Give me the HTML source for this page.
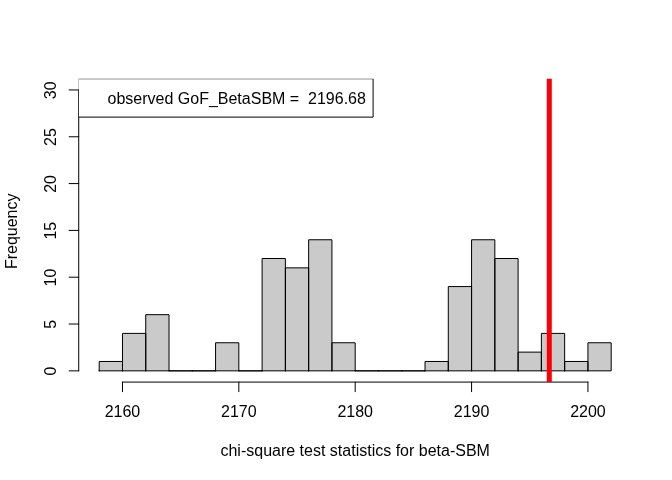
<!DOCTYPE html>
<html><head><meta charset="utf-8"><title>Histogram</title>
<style>html,body{margin:0;padding:0;background:#fff;width:672px;height:480px;overflow:hidden}svg{display:block;will-change:transform}text{white-space:pre}</style>
</head><body>
<svg width="672" height="480" viewBox="0 0 672 480" font-family="'Liberation Sans', Arial, sans-serif" font-size="16" fill="#000" stroke-linecap="round" stroke-linejoin="round">
<defs><clipPath id="pr"><rect x="78.72" y="78.72" width="552.9599999999999" height="303.36"/></clipPath></defs>
<rect x="99.200" y="361.481" width="23.273" height="9.363" fill="#CACACA"/>
<rect x="122.473" y="333.393" width="23.273" height="37.452" fill="#CACACA"/>
<rect x="145.745" y="314.667" width="23.273" height="56.178" fill="#CACACA"/>
<rect x="169.018" y="370.844" width="23.273" height="0.000" fill="#CACACA"/>
<rect x="192.291" y="370.844" width="23.273" height="0.000" fill="#CACACA"/>
<rect x="215.564" y="342.756" width="23.273" height="28.089" fill="#CACACA"/>
<rect x="238.836" y="370.844" width="23.273" height="0.000" fill="#CACACA"/>
<rect x="262.109" y="258.489" width="23.273" height="112.356" fill="#CACACA"/>
<rect x="285.382" y="267.852" width="23.273" height="102.993" fill="#CACACA"/>
<rect x="308.655" y="239.763" width="23.273" height="131.081" fill="#CACACA"/>
<rect x="331.927" y="342.756" width="23.273" height="28.089" fill="#CACACA"/>
<rect x="355.200" y="370.844" width="23.273" height="0.000" fill="#CACACA"/>
<rect x="378.473" y="370.844" width="23.273" height="0.000" fill="#CACACA"/>
<rect x="401.745" y="370.844" width="23.273" height="0.000" fill="#CACACA"/>
<rect x="425.018" y="361.481" width="23.273" height="9.363" fill="#CACACA"/>
<rect x="448.291" y="286.578" width="23.273" height="84.267" fill="#CACACA"/>
<rect x="471.564" y="239.763" width="23.273" height="131.081" fill="#CACACA"/>
<rect x="494.836" y="258.489" width="23.273" height="112.356" fill="#CACACA"/>
<rect x="518.109" y="352.119" width="23.273" height="18.726" fill="#CACACA"/>
<rect x="541.382" y="333.393" width="23.273" height="37.452" fill="#CACACA"/>
<rect x="564.655" y="361.481" width="23.273" height="9.363" fill="#CACACA"/>
<rect x="587.927" y="342.756" width="23.273" height="28.089" fill="#CACACA"/>
<path d="M99.200 370.844H122.473V361.481H99.200Z" fill="none" stroke="#000" stroke-width="1" stroke-linejoin="miter" stroke-linecap="butt"/>
<path d="M122.473 370.844H145.745V333.393H122.473Z" fill="none" stroke="#000" stroke-width="1" stroke-linejoin="miter" stroke-linecap="butt"/>
<path d="M145.745 370.844H169.018V314.667H145.745Z" fill="none" stroke="#000" stroke-width="1" stroke-linejoin="miter" stroke-linecap="butt"/>
<path d="M169.018 370.844H192.291V370.844H169.018Z" fill="none" stroke="#000" stroke-width="1" stroke-linejoin="miter" stroke-linecap="butt"/>
<path d="M192.291 370.844H215.564V370.844H192.291Z" fill="none" stroke="#000" stroke-width="1" stroke-linejoin="miter" stroke-linecap="butt"/>
<path d="M215.564 370.844H238.836V342.756H215.564Z" fill="none" stroke="#000" stroke-width="1" stroke-linejoin="miter" stroke-linecap="butt"/>
<path d="M238.836 370.844H262.109V370.844H238.836Z" fill="none" stroke="#000" stroke-width="1" stroke-linejoin="miter" stroke-linecap="butt"/>
<path d="M262.109 370.844H285.382V258.489H262.109Z" fill="none" stroke="#000" stroke-width="1" stroke-linejoin="miter" stroke-linecap="butt"/>
<path d="M285.382 370.844H308.655V267.852H285.382Z" fill="none" stroke="#000" stroke-width="1" stroke-linejoin="miter" stroke-linecap="butt"/>
<path d="M308.655 370.844H331.927V239.763H308.655Z" fill="none" stroke="#000" stroke-width="1" stroke-linejoin="miter" stroke-linecap="butt"/>
<path d="M331.927 370.844H355.200V342.756H331.927Z" fill="none" stroke="#000" stroke-width="1" stroke-linejoin="miter" stroke-linecap="butt"/>
<path d="M355.200 370.844H378.473V370.844H355.200Z" fill="none" stroke="#000" stroke-width="1" stroke-linejoin="miter" stroke-linecap="butt"/>
<path d="M378.473 370.844H401.745V370.844H378.473Z" fill="none" stroke="#000" stroke-width="1" stroke-linejoin="miter" stroke-linecap="butt"/>
<path d="M401.745 370.844H425.018V370.844H401.745Z" fill="none" stroke="#000" stroke-width="1" stroke-linejoin="miter" stroke-linecap="butt"/>
<path d="M425.018 370.844H448.291V361.481H425.018Z" fill="none" stroke="#000" stroke-width="1" stroke-linejoin="miter" stroke-linecap="butt"/>
<path d="M448.291 370.844H471.564V286.578H448.291Z" fill="none" stroke="#000" stroke-width="1" stroke-linejoin="miter" stroke-linecap="butt"/>
<path d="M471.564 370.844H494.836V239.763H471.564Z" fill="none" stroke="#000" stroke-width="1" stroke-linejoin="miter" stroke-linecap="butt"/>
<path d="M494.836 370.844H518.109V258.489H494.836Z" fill="none" stroke="#000" stroke-width="1" stroke-linejoin="miter" stroke-linecap="butt"/>
<path d="M518.109 370.844H541.382V352.119H518.109Z" fill="none" stroke="#000" stroke-width="1" stroke-linejoin="miter" stroke-linecap="butt"/>
<path d="M541.382 370.844H564.655V333.393H541.382Z" fill="none" stroke="#000" stroke-width="1" stroke-linejoin="miter" stroke-linecap="butt"/>
<path d="M564.655 370.844H587.927V361.481H564.655Z" fill="none" stroke="#000" stroke-width="1" stroke-linejoin="miter" stroke-linecap="butt"/>
<path d="M587.927 370.844H611.200V342.756H587.927Z" fill="none" stroke="#000" stroke-width="1" stroke-linejoin="miter" stroke-linecap="butt"/>
<circle cx="99.200" cy="370.844" r="0.75"/>
<circle cx="122.473" cy="370.844" r="0.75"/>
<circle cx="145.745" cy="370.844" r="0.75"/>
<circle cx="169.018" cy="370.844" r="0.75"/>
<circle cx="192.291" cy="370.844" r="0.75"/>
<circle cx="215.564" cy="370.844" r="0.75"/>
<circle cx="238.836" cy="370.844" r="0.75"/>
<circle cx="262.109" cy="370.844" r="0.75"/>
<circle cx="285.382" cy="370.844" r="0.75"/>
<circle cx="308.655" cy="370.844" r="0.75"/>
<circle cx="331.927" cy="370.844" r="0.75"/>
<circle cx="355.200" cy="370.844" r="0.75"/>
<circle cx="378.473" cy="370.844" r="0.75"/>
<circle cx="401.745" cy="370.844" r="0.75"/>
<circle cx="425.018" cy="370.844" r="0.75"/>
<circle cx="448.291" cy="370.844" r="0.75"/>
<circle cx="471.564" cy="370.844" r="0.75"/>
<circle cx="494.836" cy="370.844" r="0.75"/>
<circle cx="518.109" cy="370.844" r="0.75"/>
<circle cx="541.382" cy="370.844" r="0.75"/>
<circle cx="564.655" cy="370.844" r="0.75"/>
<circle cx="587.927" cy="370.844" r="0.75"/>
<line x1="122.473" y1="382.080" x2="587.927" y2="382.080" stroke="#000" stroke-width="1"/>
<line x1="122.473" y1="382.080" x2="122.473" y2="391.680" stroke="#000" stroke-width="1"/>
<text x="122.473" y="416.640" text-anchor="middle">2160</text>
<line x1="238.836" y1="382.080" x2="238.836" y2="391.680" stroke="#000" stroke-width="1"/>
<text x="238.836" y="416.640" text-anchor="middle">2170</text>
<line x1="355.200" y1="382.080" x2="355.200" y2="391.680" stroke="#000" stroke-width="1"/>
<text x="355.200" y="416.640" text-anchor="middle">2180</text>
<line x1="471.564" y1="382.080" x2="471.564" y2="391.680" stroke="#000" stroke-width="1"/>
<text x="471.564" y="416.640" text-anchor="middle">2190</text>
<line x1="587.927" y1="382.080" x2="587.927" y2="391.680" stroke="#000" stroke-width="1"/>
<text x="587.927" y="416.640" text-anchor="middle">2200</text>
<line x1="78.720" y1="370.844" x2="78.720" y2="89.956" stroke="#000" stroke-width="1"/>
<line x1="69.120" y1="370.844" x2="78.720" y2="370.844" stroke="#000" stroke-width="1"/>
<text transform="translate(55.680,371.144) rotate(-90)" text-anchor="middle">0</text>
<line x1="69.120" y1="324.030" x2="78.720" y2="324.030" stroke="#000" stroke-width="1"/>
<text transform="translate(55.680,324.330) rotate(-90)" text-anchor="middle">5</text>
<line x1="69.120" y1="277.215" x2="78.720" y2="277.215" stroke="#000" stroke-width="1"/>
<text transform="translate(55.680,277.515) rotate(-90)" text-anchor="middle">10</text>
<line x1="69.120" y1="230.400" x2="78.720" y2="230.400" stroke="#000" stroke-width="1"/>
<text transform="translate(55.680,230.700) rotate(-90)" text-anchor="middle">15</text>
<line x1="69.120" y1="183.585" x2="78.720" y2="183.585" stroke="#000" stroke-width="1"/>
<text transform="translate(55.680,183.885) rotate(-90)" text-anchor="middle">20</text>
<line x1="69.120" y1="136.770" x2="78.720" y2="136.770" stroke="#000" stroke-width="1"/>
<text transform="translate(55.680,137.070) rotate(-90)" text-anchor="middle">25</text>
<line x1="69.120" y1="89.956" x2="78.720" y2="89.956" stroke="#000" stroke-width="1"/>
<text transform="translate(55.680,90.256) rotate(-90)" text-anchor="middle">30</text>
<text x="355.200" y="456.140" text-anchor="middle">chi-square test statistics for beta-SBM</text>
<text transform="translate(17.280,231.300) rotate(-90)" text-anchor="middle">Frequency</text>
<line x1="549.295" y1="78.720" x2="549.295" y2="382.080" stroke="#FB0006" stroke-width="5" stroke-linecap="butt"/>
<rect x="78.720" y="78.720" width="294.384" height="38.400" fill="#fff" stroke="#000" stroke-width="1" clip-path="url(#pr)"/>
<text x="107.520" y="103.650">observed GoF_BetaSBM =  2196.68</text>
</svg>
</body></html>
